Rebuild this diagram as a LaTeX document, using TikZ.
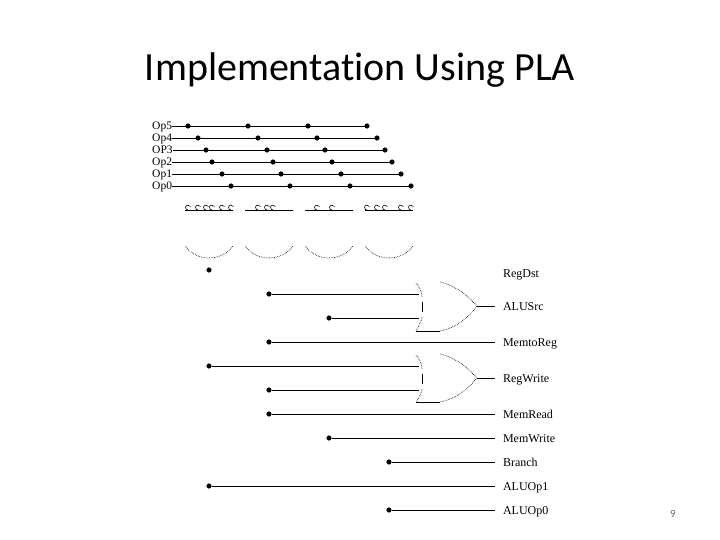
\documentclass[tikz,border=0pt]{standalone}
\usepackage{fontspec}
\setmainfont{Liberation Serif}
\newfontfamily\titlefont[Ligatures=NoCommon]{Carlito}
\begin{document}
\begin{tikzpicture}[x=1pt, y=-1pt,
    main/.style = {draw=black, fill=black, circle, inner sep=0pt, minimum size=4.6pt},
    inlabel/.style = {anchor=west, inner sep=0pt, text height=8pt, text depth=0pt, font=\fontsize{11.5}{12}\selectfont},
    outlabel/.style = {anchor=west, inner ysep=0pt, inner xsep=8pt, outer sep=0pt, text height=8pt, text depth=0pt, font=\fontsize{12}{12}\selectfont},
    wire/.style = {line width=0.9pt},
    thinline/.style = {line width=0.65pt, densely dotted},
    bump/.pic = {\draw[line width=0.6pt] (2.5,-3.5) .. controls (1.5,-5.5) and (-2.5,-5.5) .. (-2.5,-2.5) .. controls (-2.5,-1) and (-1,0) .. (0,0);}]
    \useasboundingbox (0,0) rectangle (720,540);
    \node[font=\titlefont\fontsize{40}{44}\selectfont] (title) at (360,70){Implementation Using PLA};
    \node[font=\titlefont\fontsize{11}{12}\selectfont, text=black!60] (page) at (673,514){9};
    % inputs
    \node[inlabel] (op5) at (152,126){Op5};
    \node[inlabel] (op4) at (152,138){Op4};
    \node[inlabel] (op3) at (152,150){OP3};
    \node[inlabel] (op2) at (152,162){Op2};
    \node[inlabel] (op1) at (152,174){Op1};
    \node[inlabel] (op0) at (152,186){Op0};
    \node[main] (a5) at (188,126){};
    \node[main] (b5) at (248,126){};
    \node[main] (c5) at (308,126){};
    \node[main] (d5) at (367,126){};
    \node[main] (a4) at (198,138){};
    \node[main] (b4) at (258,138){};
    \node[main] (c4) at (317,138){};
    \node[main] (d4) at (377,138){};
    \node[main] (a3) at (206,150){};
    \node[main] (b3) at (267,150){};
    \node[main] (c3) at (325,150){};
    \node[main] (d3) at (385,150){};
    \node[main] (a2) at (212,162){};
    \node[main] (b2) at (273,162){};
    \node[main] (c2) at (332,162){};
    \node[main] (d2) at (392,162){};
    \node[main] (a1) at (222,174){};
    \node[main] (b1) at (281,174){};
    \node[main] (c1) at (341,174){};
    \node[main] (d1) at (401,174){};
    \node[main] (a0) at (231,186){};
    \node[main] (b0) at (290,186){};
    \node[main] (c0) at (350,186){};
    \node[main] (d0) at (411,186){};
    \draw[wire] (op5) -- (d5);
    \draw[wire] (op4) -- (d4);
    \draw[wire] (op3) -- (d3);
    \draw[wire] (op2) -- (d2);
    \draw[wire] (op1) -- (d1);
    \draw[wire] (op0) -- (d0);
    % and planes
    \draw[wire] (185,210) -- (233,210);
    \draw[wire] (245,210) -- (293,210);
    \draw[wire] (305,210) -- (353,210);
    \draw[wire] (365,210) -- (413,210);
    \pic at (188,210) {bump};
    \pic at (198,210) {bump};
    \pic at (206,210) {bump};
    \pic at (212,210) {bump};
    \pic at (222,210) {bump};
    \pic at (231,210) {bump};
    \pic at (258,210) {bump};
    \pic at (267,210) {bump};
    \pic at (273,210) {bump};
    \pic at (317,210) {bump};
    \pic at (332,210) {bump};
    \pic at (367,210) {bump};
    \pic at (377,210) {bump};
    \pic at (385,210) {bump};
    \pic at (401,210) {bump};
    \pic at (411,210) {bump};
    \draw[thinline] (185,246) .. controls (197,262) and (221,262) .. (233,246);
    \draw[thinline] (245,246) .. controls (257,262) and (281,262) .. (293,246);
    \draw[thinline] (305,246) .. controls (317,262) and (341,262) .. (353,246);
    \draw[thinline] (365,246) .. controls (377,262) and (401,262) .. (413,246);
    % outputs
    \node[outlabel] (regdst) at (495,273){RegDst};
    \node[outlabel] (alusrc) at (495,306){ALUSrc};
    \node[outlabel] (memtoreg) at (495,342){MemtoReg};
    \node[outlabel] (regwrite) at (495,378){RegWrite};
    \node[outlabel] (memread) at (495,414){MemRead};
    \node[outlabel] (memwrite) at (495,438){MemWrite};
    \node[outlabel] (branch) at (495,462){Branch};
    \node[outlabel] (aluop1) at (495,486){ALUOp1};
    \node[outlabel] (aluop0) at (495,510){ALUOp0};
    \node[main] (e1) at (209,270){};
    \node[main] (e2) at (269,294){};
    \node[main] (e3) at (329,318){};
    \node[main] (e4) at (269,342){};
    \node[main] (e5) at (209,366){};
    \node[main] (e6) at (269,390){};
    \node[main] (e7) at (269,414){};
    \node[main] (e8) at (329,438){};
    \node[main] (e9) at (389,462){};
    \node[main] (e10) at (209,486){};
    \node[main] (e11) at (389,510){};
    \coordinate (s1) at (419,294);
    \coordinate (s2) at (419,318);
    \coordinate (s3) at (419,366);
    \coordinate (s4) at (419,390);
    \coordinate (g1) at (477,306);
    \coordinate (g2) at (477,378);
    \draw[wire] (e2) -- (s1);
    \draw[wire] (e3) -- (s2);
    \draw[wire] (e4) -- (memtoreg);
    \draw[wire] (e5) -- (s3);
    \draw[wire] (e6) -- (s4);
    \draw[wire] (e7) -- (memread);
    \draw[wire] (e8) -- (memwrite);
    \draw[wire] (e9) -- (branch);
    \draw[wire] (e10) -- (aluop1);
    \draw[wire] (e11) -- (aluop0);
    \draw[wire] (g1) -- (alusrc.west);
    \draw[wire] (g2) -- (regwrite.west);
    % or gates
    \draw[thinline] (416,283) .. controls (420,288) and (422,292) .. (422,297);
    \draw[wire, line width=0.6pt] (422,302) -- (422,312);
    \draw[thinline] (422,317) .. controls (421,322) and (419,326) .. (416,331);
    \draw[wire, line width=0.6pt] (416,331) -- (440,331);
    \draw[thinline] (440,282) .. controls (456,286) and (467,295) .. (g1);
    \draw[thinline] (440,331) .. controls (456,328) and (467,319) .. (g1);
    \draw[thinline] (416,355) .. controls (420,360) and (422,364) .. (422,369);
    \draw[wire, line width=0.6pt] (422,374) -- (422,384);
    \draw[thinline] (422,389) .. controls (421,394) and (419,398) .. (416,402);
    \draw[wire, line width=0.6pt] (416,402) -- (440,402);
    \draw[thinline] (440,354) .. controls (456,358) and (467,367) .. (g2);
    \draw[thinline] (440,402) .. controls (456,399) and (467,390) .. (g2);
\end{tikzpicture}
\end{document}
